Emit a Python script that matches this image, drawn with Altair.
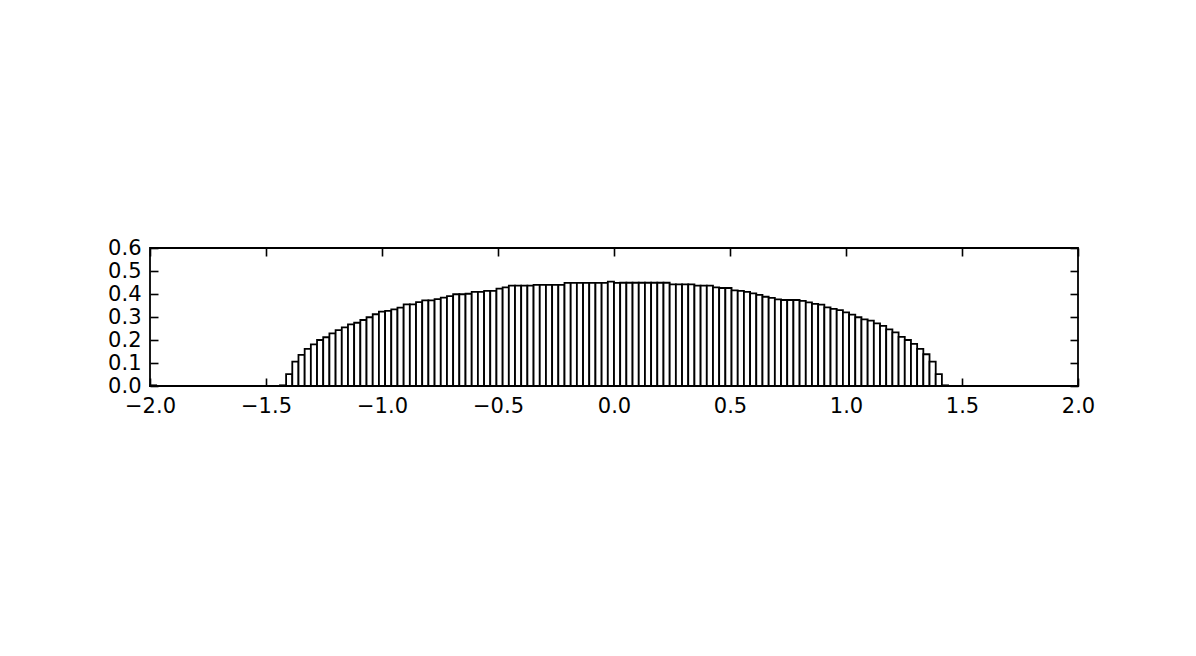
import altair as alt
import pandas as pd

# Histogram: 150 equal bins on [-2, 2], normalised density
X_MIN = -2.0
X_MAX = 2.0
N_BINS = 150

density = [
    0.003, 0.0, 0.0, 0.0, 0.0, 0.0, 0.0, 0.0, 0.0, 0.0,
    0.0, 0.0, 0.0, 0.0, 0.0, 0.0, 0.0, 0.0, 0.0, 0.0,
    0.0, 0.003, 0.052, 0.106, 0.135, 0.161, 0.181, 0.200, 0.212, 0.229,
    0.243, 0.255, 0.268, 0.275, 0.287, 0.299, 0.312, 0.323, 0.327, 0.333,
    0.341, 0.355, 0.355, 0.365, 0.372, 0.372, 0.378, 0.384, 0.391, 0.399,
    0.399, 0.401, 0.409, 0.409, 0.414, 0.414, 0.423, 0.429, 0.436, 0.436,
    0.436, 0.436, 0.440, 0.440, 0.440, 0.440, 0.440, 0.448, 0.448, 0.448,
    0.448, 0.448, 0.448, 0.448, 0.454, 0.448, 0.449, 0.449, 0.449, 0.449,
    0.449, 0.449, 0.449, 0.449, 0.442, 0.442, 0.442, 0.442, 0.436, 0.436,
    0.436, 0.429, 0.426, 0.426, 0.416, 0.414, 0.409, 0.403, 0.396, 0.388,
    0.383, 0.377, 0.374, 0.374, 0.374, 0.370, 0.364, 0.357, 0.354, 0.342,
    0.335, 0.330, 0.320, 0.310, 0.299, 0.290, 0.284, 0.272, 0.261, 0.246,
    0.233, 0.214, 0.200, 0.183, 0.161, 0.138, 0.106, 0.052, 0.003, 0.0,
    0.0, 0.0, 0.0, 0.0, 0.0, 0.0, 0.0, 0.0, 0.0, 0.0,
    0.0, 0.0, 0.0, 0.0, 0.0, 0.0, 0.0, 0.0, 0.0, 0.0,
]

x_ticks = [-2.0, -1.5, -1.0, -0.5, 0.0, 0.5, 1.0, 1.5, 2.0]
y_ticks = [0.0, 0.1, 0.2, 0.3, 0.4, 0.5, 0.6]
Y_MAX = 0.6

width_bin = (X_MAX - X_MIN) / N_BINS
df = pd.DataFrame({
    "start": [X_MIN + i * width_bin for i in range(N_BINS)],
    "end": [X_MIN + (i + 1) * width_bin for i in range(N_BINS)],
    "density": density,
})

FONT = "DejaVu Sans"
TICK = 8
FS = 21

x_scale = alt.Scale(domain=[X_MIN, X_MAX], nice=False, zero=False)
y_scale = alt.Scale(domain=[0, Y_MAX], nice=False)

common_axis = dict(
    grid=False, domain=False, tickSize=TICK, tickWidth=1.6, tickColor="black",
    offset=-TICK, format=".1f", labelFlush=False, labelOverlap=False,
    labelFont=FONT, labelFontSize=FS, labelColor="black", title=None,
)

bars = alt.Chart(df).mark_bar(
    fill="white", stroke="black", strokeWidth=1.8
).encode(
    x=alt.X("start:Q", scale=x_scale,
            axis=alt.Axis(orient="bottom", values=x_ticks, labelPadding=9, **common_axis)),
    x2="end:Q",
    y=alt.Y("density:Q", scale=y_scale,
            axis=alt.Axis(orient="left", values=y_ticks, labelPadding=9, **common_axis)),
    y2=alt.datum(0),
)

mirror = alt.Chart(df).mark_bar(opacity=0).encode(
    x=alt.X("start:Q", scale=x_scale,
            axis=alt.Axis(orient="top", values=x_ticks, labels=False, **common_axis)),
    x2="end:Q",
    y=alt.Y("density:Q", scale=y_scale,
            axis=alt.Axis(orient="right", values=y_ticks, labels=False, **common_axis)),
    y2=alt.datum(0),
)

chart = alt.layer(bars, mirror).resolve_axis(
    x="independent", y="independent"
).properties(
    width=928, height=138,
    autosize=alt.AutoSizeParams(type="none"),
    padding={"left": 142, "top": 240, "right": 80, "bottom": 80},
    background="white",
).configure_view(stroke="black", strokeWidth=1.8)

chart.save("out.html", embed_options={"renderer": "svg", "actions": False})
